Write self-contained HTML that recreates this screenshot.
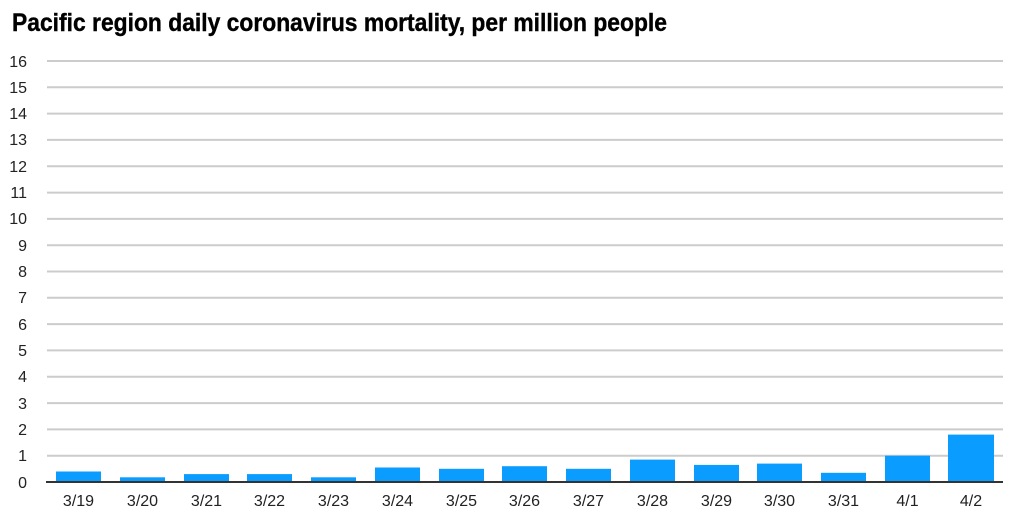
<!DOCTYPE html>
<html><head><meta charset="utf-8"><style>
html,body{margin:0;padding:0;background:#fff;}
svg{display:block;}
</style></head><body>
<svg width="1017" height="522" xmlns="http://www.w3.org/2000/svg">
<text x="12" y="31" font-family="Liberation Sans, sans-serif" font-weight="bold" font-size="25" fill="#000" stroke="#000" stroke-width="0.4" textLength="655" lengthAdjust="spacingAndGlyphs">Pacific region daily coronavirus mortality, per million people</text>
<g stroke="#cccccc" stroke-width="2">
<line x1="47" x2="1003" y1="61" y2="61"/><line x1="47" x2="1003" y1="87.3" y2="87.3"/><line x1="47" x2="1003" y1="113.6" y2="113.6"/><line x1="47" x2="1003" y1="139.9" y2="139.9"/><line x1="47" x2="1003" y1="166.3" y2="166.3"/><line x1="47" x2="1003" y1="192.6" y2="192.6"/><line x1="47" x2="1003" y1="218.9" y2="218.9"/><line x1="47" x2="1003" y1="245.2" y2="245.2"/><line x1="47" x2="1003" y1="271.5" y2="271.5"/><line x1="47" x2="1003" y1="297.8" y2="297.8"/><line x1="47" x2="1003" y1="324.1" y2="324.1"/><line x1="47" x2="1003" y1="350.4" y2="350.4"/><line x1="47" x2="1003" y1="376.8" y2="376.8"/><line x1="47" x2="1003" y1="403.1" y2="403.1"/><line x1="47" x2="1003" y1="429.4" y2="429.4"/><line x1="47" x2="1003" y1="455.7" y2="455.7"/>
</g>
<g font-family="Liberation Sans, sans-serif" font-size="16" fill="#222" text-anchor="end">
<text x="27" y="67">16</text><text x="27" y="93">15</text><text x="27" y="119">14</text><text x="27" y="145">13</text><text x="27" y="172">12</text><text x="27" y="198">11</text><text x="27" y="224">10</text><text x="27" y="251">9</text><text x="27" y="277">8</text><text x="27" y="303">7</text><text x="27" y="330">6</text><text x="27" y="356">5</text><text x="27" y="382">4</text><text x="27" y="409">3</text><text x="27" y="435">2</text><text x="27" y="461">1</text><text x="27" y="488">0</text>
</g>
<g fill="#0a9cff">
<rect x="56" y="471.5" width="45" height="10.5"/>
<rect x="120" y="477.3" width="45" height="4.7"/>
<rect x="184" y="474.1" width="45" height="7.9"/>
<rect x="247" y="474.1" width="45" height="7.9"/>
<rect x="311" y="477.3" width="45" height="4.7"/>
<rect x="375" y="467.5" width="45" height="14.5"/>
<rect x="439" y="468.8" width="45" height="13.2"/>
<rect x="502" y="466.2" width="45" height="15.8"/>
<rect x="566" y="468.8" width="45" height="13.2"/>
<rect x="630" y="459.6" width="45" height="22.4"/>
<rect x="694" y="464.9" width="45" height="17.1"/>
<rect x="757" y="463.6" width="45" height="18.4"/>
<rect x="821" y="472.8" width="45" height="9.2"/>
<rect x="885" y="455.7" width="45" height="26.3"/>
<rect x="948" y="434.6" width="46" height="47.4"/>
</g>
<line x1="46" x2="1003" y1="482" y2="482" stroke="#333" stroke-width="2"/>
<g font-family="Liberation Sans, sans-serif" font-size="16" fill="#222" text-anchor="middle">
<text x="78.5" y="506">3/19</text><text x="142.5" y="506">3/20</text><text x="206.5" y="506">3/21</text><text x="269.5" y="506">3/22</text><text x="333.5" y="506">3/23</text><text x="397.5" y="506">3/24</text><text x="461.5" y="506">3/25</text><text x="524.5" y="506">3/26</text><text x="588.5" y="506">3/27</text><text x="652.5" y="506">3/28</text><text x="716.5" y="506">3/29</text><text x="779.5" y="506">3/30</text><text x="843.5" y="506">3/31</text><text x="907.5" y="506">4/1</text><text x="971" y="506">4/2</text>
</g>
</svg>
</body></html>
